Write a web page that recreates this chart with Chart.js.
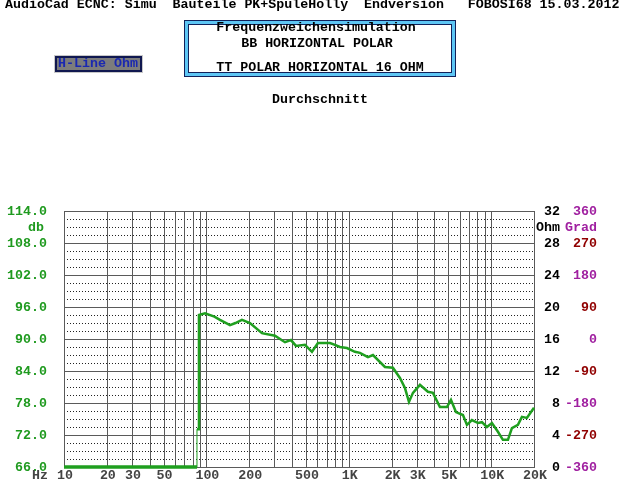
<!DOCTYPE html>
<html>
<head>
<meta charset="utf-8">
<script src="https://cdn.jsdelivr.net/npm/chart.js@4/dist/chart.umd.min.js"></script>
<style>
html,body{margin:0;padding:0;background:#fff;}
#wrap{width:640px;height:480px;}
</style>
</head>
<body>
<div id="wrap"><canvas id="c" width="640" height="480"></canvas></div>
<script>
// ---- data ----
const freqs = [10, 85.9, 85.9, 88.7, 88.7, 97.8, 113.8, 124.6, 146.5, 160, 177.8, 202.4, 245.7, 303.2, 356.4, 392.7, 425.9, 492.5, 551.5, 607.6, 738, 800, 867.2, 971, 1105, 1198, 1364, 1479, 1795, 2043, 2288, 2481, 2648, 2824, 3162, 3598, 3902, 4368, 4893, 5221, 5660, 6339, 6761, 7328, 8079, 8616, 9337, 10130, 11160, 12100, 13120, 13996, 15420, 16450, 17830, 20000];
const dbValues = [66, 66, 73.1, 73.1, 94.5, 94.8, 94.2, 93.6, 92.6, 93.0, 93.6, 93.0, 91.1, 90.6, 89.4, 89.8, 88.7, 88.9, 87.6, 89.25, 89.25, 88.9, 88.5, 88.3, 87.6, 87.4, 86.6, 87.0, 84.75, 84.6, 82.7, 80.8, 78.2, 79.9, 81.4, 80.1, 79.9, 77.25, 77.25, 78.6, 76.3, 75.75, 73.9, 74.8, 74.25, 74.4, 73.5, 74.25, 72.6, 71.1, 71.1, 73.3, 73.9, 75.4, 75.2, 77.1];
const dbTicks = [66, 72, 78, 84, 90, 96, 102, 108, 114];
const ohmTicks = [0, 4, 8, 12, 16, 20, 24, 28, 32];
const gradTicks = [-360, -270, -180, -90, 0, 90, 180, 270, 360];
const xTickValues = [10, 20, 30, 50, 100, 200, 500, 1000, 2000, 3000, 5000, 10000, 20000];
const xTickLabels = ['10', '20', '30', '50', '100', '200', '500', '1K', '2K', '3K', '5K', '10K', '20K'];
const xGridValues = [20,30,40,50,60,70,80,90,100,200,300,400,500,600,700,800,900,1000,2000,3000,4000,5000,6000,7000,8000,9000,10000];
const headerText = 'AudioCad ECNC: Simu  Bauteile PK+SpuleHolly  Endversion   FOBOSI68 15.03.2012';
const boxLines = ['Frequenzweichensimulation', 'BB HORIZONTAL POLAR', 'TT POLAR HORIZONTAL 16 OHM'];
const subtitle = 'Durchschnitt';
const buttonText = 'H-Line Ohm';

const FONT = "bold 13.3px 'Liberation Mono', 'DejaVu Sans Mono', monospace";
const GREEN = '#1f9a1f';
const PURPLE = '#a020a0';
const DARKRED = '#900000';

const decor = {
  id: 'decor',
  beforeDraw(chart) {
    const ctx = chart.ctx;
    ctx.save();
    ctx.fillStyle = '#fff';
    ctx.fillRect(0, 0, chart.width, chart.height);
    ctx.restore();
  },
  beforeDatasetsDraw(chart) {
    const ctx = chart.ctx;
    const xs = chart.scales.x, ys = chart.scales.y;
    const a = chart.chartArea;
    ctx.save();
    ctx.strokeStyle = '#222';
    ctx.lineWidth = 1;
    ctx.setLineDash([1, 2]);
    for (let v = ys.min; v <= ys.max + 0.001; v += 1.5) {
      if (Math.abs(v % 6) < 0.001) continue;
      const y = Math.round(ys.getPixelForValue(v)) + 0.5;
      ctx.beginPath(); ctx.moveTo(a.left, y); ctx.lineTo(a.right, y); ctx.stroke();
    }
    ctx.setLineDash([]);
    ctx.strokeStyle = '#5a5a5a';
    dbTicks.forEach(v => {
      const y = Math.round(ys.getPixelForValue(v)) + 0.5;
      ctx.beginPath(); ctx.moveTo(a.left, y); ctx.lineTo(a.right, y); ctx.stroke();
    });
    xGridValues.forEach(v => {
      const x = Math.round(xs.getPixelForValue(v)) + 0.5;
      ctx.beginPath(); ctx.moveTo(x, a.top); ctx.lineTo(x, a.bottom); ctx.stroke();
    });
    ctx.strokeRect(Math.round(a.left) + 0.5, Math.round(a.top) + 0.5, Math.round(a.right - a.left), Math.round(a.bottom - a.top));
    ctx.restore();
  },
  afterDraw(chart) {
    const ctx = chart.ctx;
    const xs = chart.scales.x, ys = chart.scales.y, yo = chart.scales.yOhm, yg = chart.scales.yGrad;
    ctx.save();
    ctx.font = FONT;
    ctx.textBaseline = 'middle';
    ctx.fillStyle = '#000';
    ctx.textAlign = 'left';
    ctx.fillText(headerText, 5, 5);
    // box
    ctx.fillStyle = '#10205a';
    ctx.fillRect(184, 20, 272, 57);
    ctx.fillStyle = '#5ec6f4';
    ctx.fillRect(185, 21, 270, 55);
    ctx.fillStyle = '#10205a';
    ctx.fillRect(188, 24, 264, 49);
    ctx.fillStyle = '#fff';
    ctx.fillRect(189, 25, 262, 47);
    ctx.fillStyle = '#000';
    ctx.textAlign = 'center';
    ctx.fillText(boxLines[0], 316, 28);
    ctx.fillText(boxLines[1], 317, 44);
    ctx.fillText(boxLines[2], 320, 68);
    ctx.fillText(subtitle, 320, 100);
    // button
    ctx.fillStyle = '#c8c8c8';
    ctx.fillRect(54, 55, 89, 18);
    ctx.fillStyle = '#101850';
    ctx.fillRect(55, 56, 87, 16);
    ctx.fillStyle = '#7c7c7c';
    ctx.fillRect(57, 58, 83, 12);
    ctx.fillStyle = '#1a28b0';
    ctx.fillText(buttonText, 98, 64);
    // left axis labels
    ctx.textAlign = 'right';
    ctx.fillStyle = GREEN;
    dbTicks.forEach(v => ctx.fillText(v.toFixed(1), 47, ys.getPixelForValue(v) + 1));
    ctx.textAlign = 'center';
    ctx.fillText('db', 36, ys.getPixelForValue(111) + 1);
    // right axes
    ctx.textAlign = 'right';
    ctx.fillStyle = '#000';
    ohmTicks.forEach(v => ctx.fillText(String(v), 560, yo.getPixelForValue(v) + 1));
    ctx.fillText('Ohm', 560, yo.getPixelForValue(30) + 1);
    gradTicks.forEach(v => {
      ctx.fillStyle = (Math.abs(v) % 180 === 0) ? PURPLE : DARKRED;
      ctx.fillText(String(v), 597, yg.getPixelForValue(v) + 1);
    });
    ctx.fillStyle = PURPLE;
    ctx.fillText('Grad', 597, yg.getPixelForValue(315) + 1);
    // x labels
    ctx.textAlign = 'center';
    ctx.fillStyle = '#444';
    ctx.fillText('Hz', 40, 476);
    xTickValues.forEach((v, i) => ctx.fillText(xTickLabels[i], xs.getPixelForValue(v) + 1, 476));
    ctx.restore();
  }
};

new Chart(document.getElementById('c'), {
  type: 'line',
  data: {
    datasets: [{
      data: freqs.map((f, i) => ({ x: f, y: dbValues[i] })),
      borderColor: '#1f9f1f',
      borderWidth: 2.5,
      pointRadius: 0,
      tension: 0,
      clip: 4,
      segment: {
        borderWidth: c => (c.p0DataIndex === 1 ? 1 : (c.p0DataIndex === 0 ? 3.5 : 2.5))
      }
    }]
  },
  options: {
    responsive: false,
    animation: false,
    devicePixelRatio: 1,
    layout: { padding: { left: 64, right: 106, top: 211, bottom: 13 } },
    plugins: { legend: { display: false }, tooltip: { enabled: false }, title: { display: false } },
    scales: {
      x: { type: 'logarithmic', min: 10, max: 20000, display: false },
      y: { type: 'linear', min: 66, max: 114, display: false },
      yOhm: { type: 'linear', min: 0, max: 32, display: false, position: 'right' },
      yGrad: { type: 'linear', min: -360, max: 360, display: false, position: 'right' }
    }
  },
  plugins: [decor]
});
</script>
</body>
</html>
